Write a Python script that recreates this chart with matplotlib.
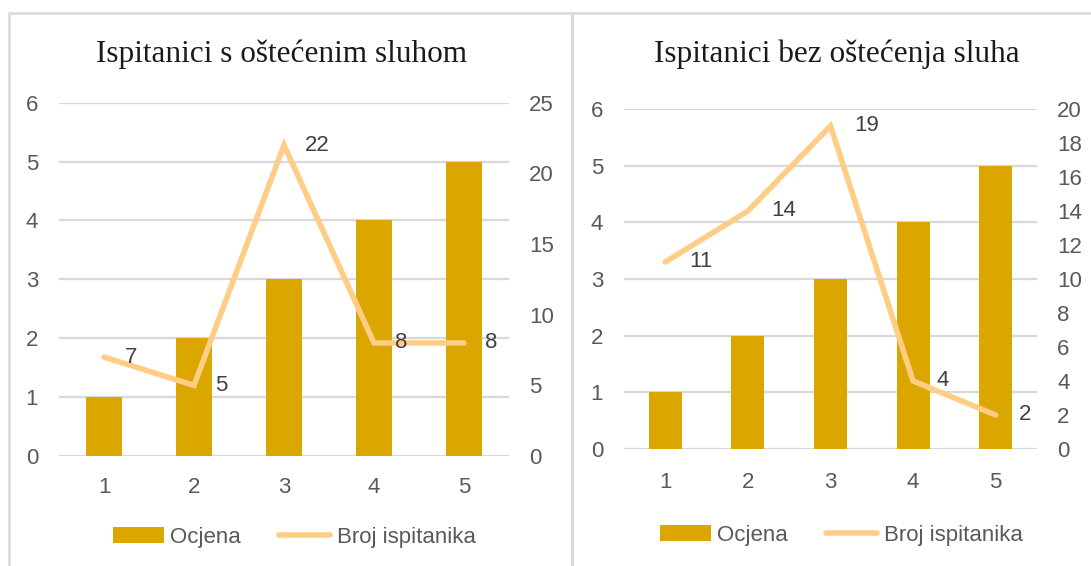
import matplotlib
matplotlib.use("Agg")
import matplotlib.pyplot as plt
from matplotlib.patches import Rectangle, Patch
from matplotlib.lines import Line2D

# ---- data ----
categories = [1, 2, 3, 4, 5]
ocjena_left = [1, 2, 3, 4, 5]
broj_left = [7, 5, 22, 8, 8]
ocjena_right = [1, 2, 3, 4, 5]
broj_right = [11, 14, 19, 4, 2]
title_left = "Ispitanici s oštećenim sluhom"
title_right = "Ispitanici bez oštećenja sluha"
legend_bar = "Ocjena"
legend_line = "Broj ispitanika"
left_ticks = [0, 1, 2, 3, 4, 5, 6]
right_ticks_left = [0, 5, 10, 15, 20, 25]
right_ticks_right = [0, 2, 4, 6, 8, 10, 12, 14, 16, 18, 20]

W, H = 1091, 566
BAR = "#DCA600"
LINE = "#FFCD85"
GRID = "#D9D9D9"
TICK = "#595959"
LAB = "#404040"
SANS = ["Liberation Sans", "DejaVu Sans"]
SERIF = ["Liberation Serif", "DejaVu Serif"]
FS = 16

plt.rcParams["font.family"] = SANS

fig = plt.figure(figsize=(W / 100, H / 100), dpi=100)
fig.patch.set_facecolor("white")


def px_axes(x0, y0, x1, y1):
    return fig.add_axes([x0 / W, 1 - y1 / H, (x1 - x0) / W, (y1 - y0) / H])


def panel(box, ocjena, broj, rticks, title, title_xy, xpad, legend_xy, lblpad):
    ax = px_axes(*box)
    ax.bar(categories, ocjena, width=0.4, color=BAR, zorder=2)
    ax.set_xlim(0.5, 5.5)
    ax.set_ylim(0, 6)
    ax.set_yticks(left_ticks)
    ax.set_xticks(categories)
    ax.grid(axis="y", color=GRID, lw=1.6, zorder=0)
    ax.set_axisbelow(True)
    for s in ax.spines.values():
        s.set_visible(False)
    ax.tick_params(axis="y", length=0, pad=15, labelsize=FS, labelcolor=TICK)
    ax.tick_params(axis="x", length=0, pad=xpad, labelsize=FS, labelcolor=TICK)

    ax2 = ax.twinx()
    ax2.plot(categories, broj, color=LINE, lw=4, solid_capstyle="round",
             solid_joinstyle="miter", zorder=3)
    ax2.set_ylim(0, rticks[-1])
    ax2.set_yticks(rticks)
    for s in ax2.spines.values():
        s.set_visible(False)
    ax2.tick_params(axis="y", length=0, pad=14.5, labelsize=FS, labelcolor=TICK)
    for x, v in zip(categories, broj):
        ax2.annotate(str(v), (x, v), xytext=(lblpad, 0), textcoords="offset points",
                     ha="left", va="center", fontsize=FS, color=LAB)

    fig.text(title_xy[0] / W, 1 - title_xy[1] / H, title, ha="center", va="center",
             fontsize=22.5, family=SERIF, color="#1A1A1A")

    handles = [Patch(facecolor=BAR, edgecolor="none"),
               Line2D([0], [0], color=LINE, lw=4, solid_capstyle="round")]
    fig.legend(handles, [legend_bar, legend_line], loc="center",
               bbox_to_anchor=(legend_xy[0] / W, 1 - legend_xy[1] / H),
               ncol=2, frameon=False, fontsize=FS, handlelength=2.3,
               handletextpad=0.3, columnspacing=1.7, labelcolor=TICK,
               borderaxespad=0, borderpad=0)
    return ax, ax2


panel((59, 102.7, 509, 456), ocjena_left, broj_left, right_ticks_left,
      title_left, (282, 54), 15, (294, 537), 15)
panel((624, 109, 1037, 449), ocjena_right, broj_right, right_ticks_right,
      title_right, (837, 54), 16.5, (841, 535), 17)

# panel borders
fig.patches.append(Rectangle((9 / W, -0.05), (572 - 9) / W, 1.05 - 13 / H,
                             transform=fig.transFigure, fill=False,
                             edgecolor=GRID, lw=1.8))
fig.patches.append(Rectangle((572 / W, -0.05), 0.6, 1.05 - 13 / H,
                             transform=fig.transFigure, fill=False,
                             edgecolor=GRID, lw=1.8))

fig.savefig("out.png", dpi=100)
